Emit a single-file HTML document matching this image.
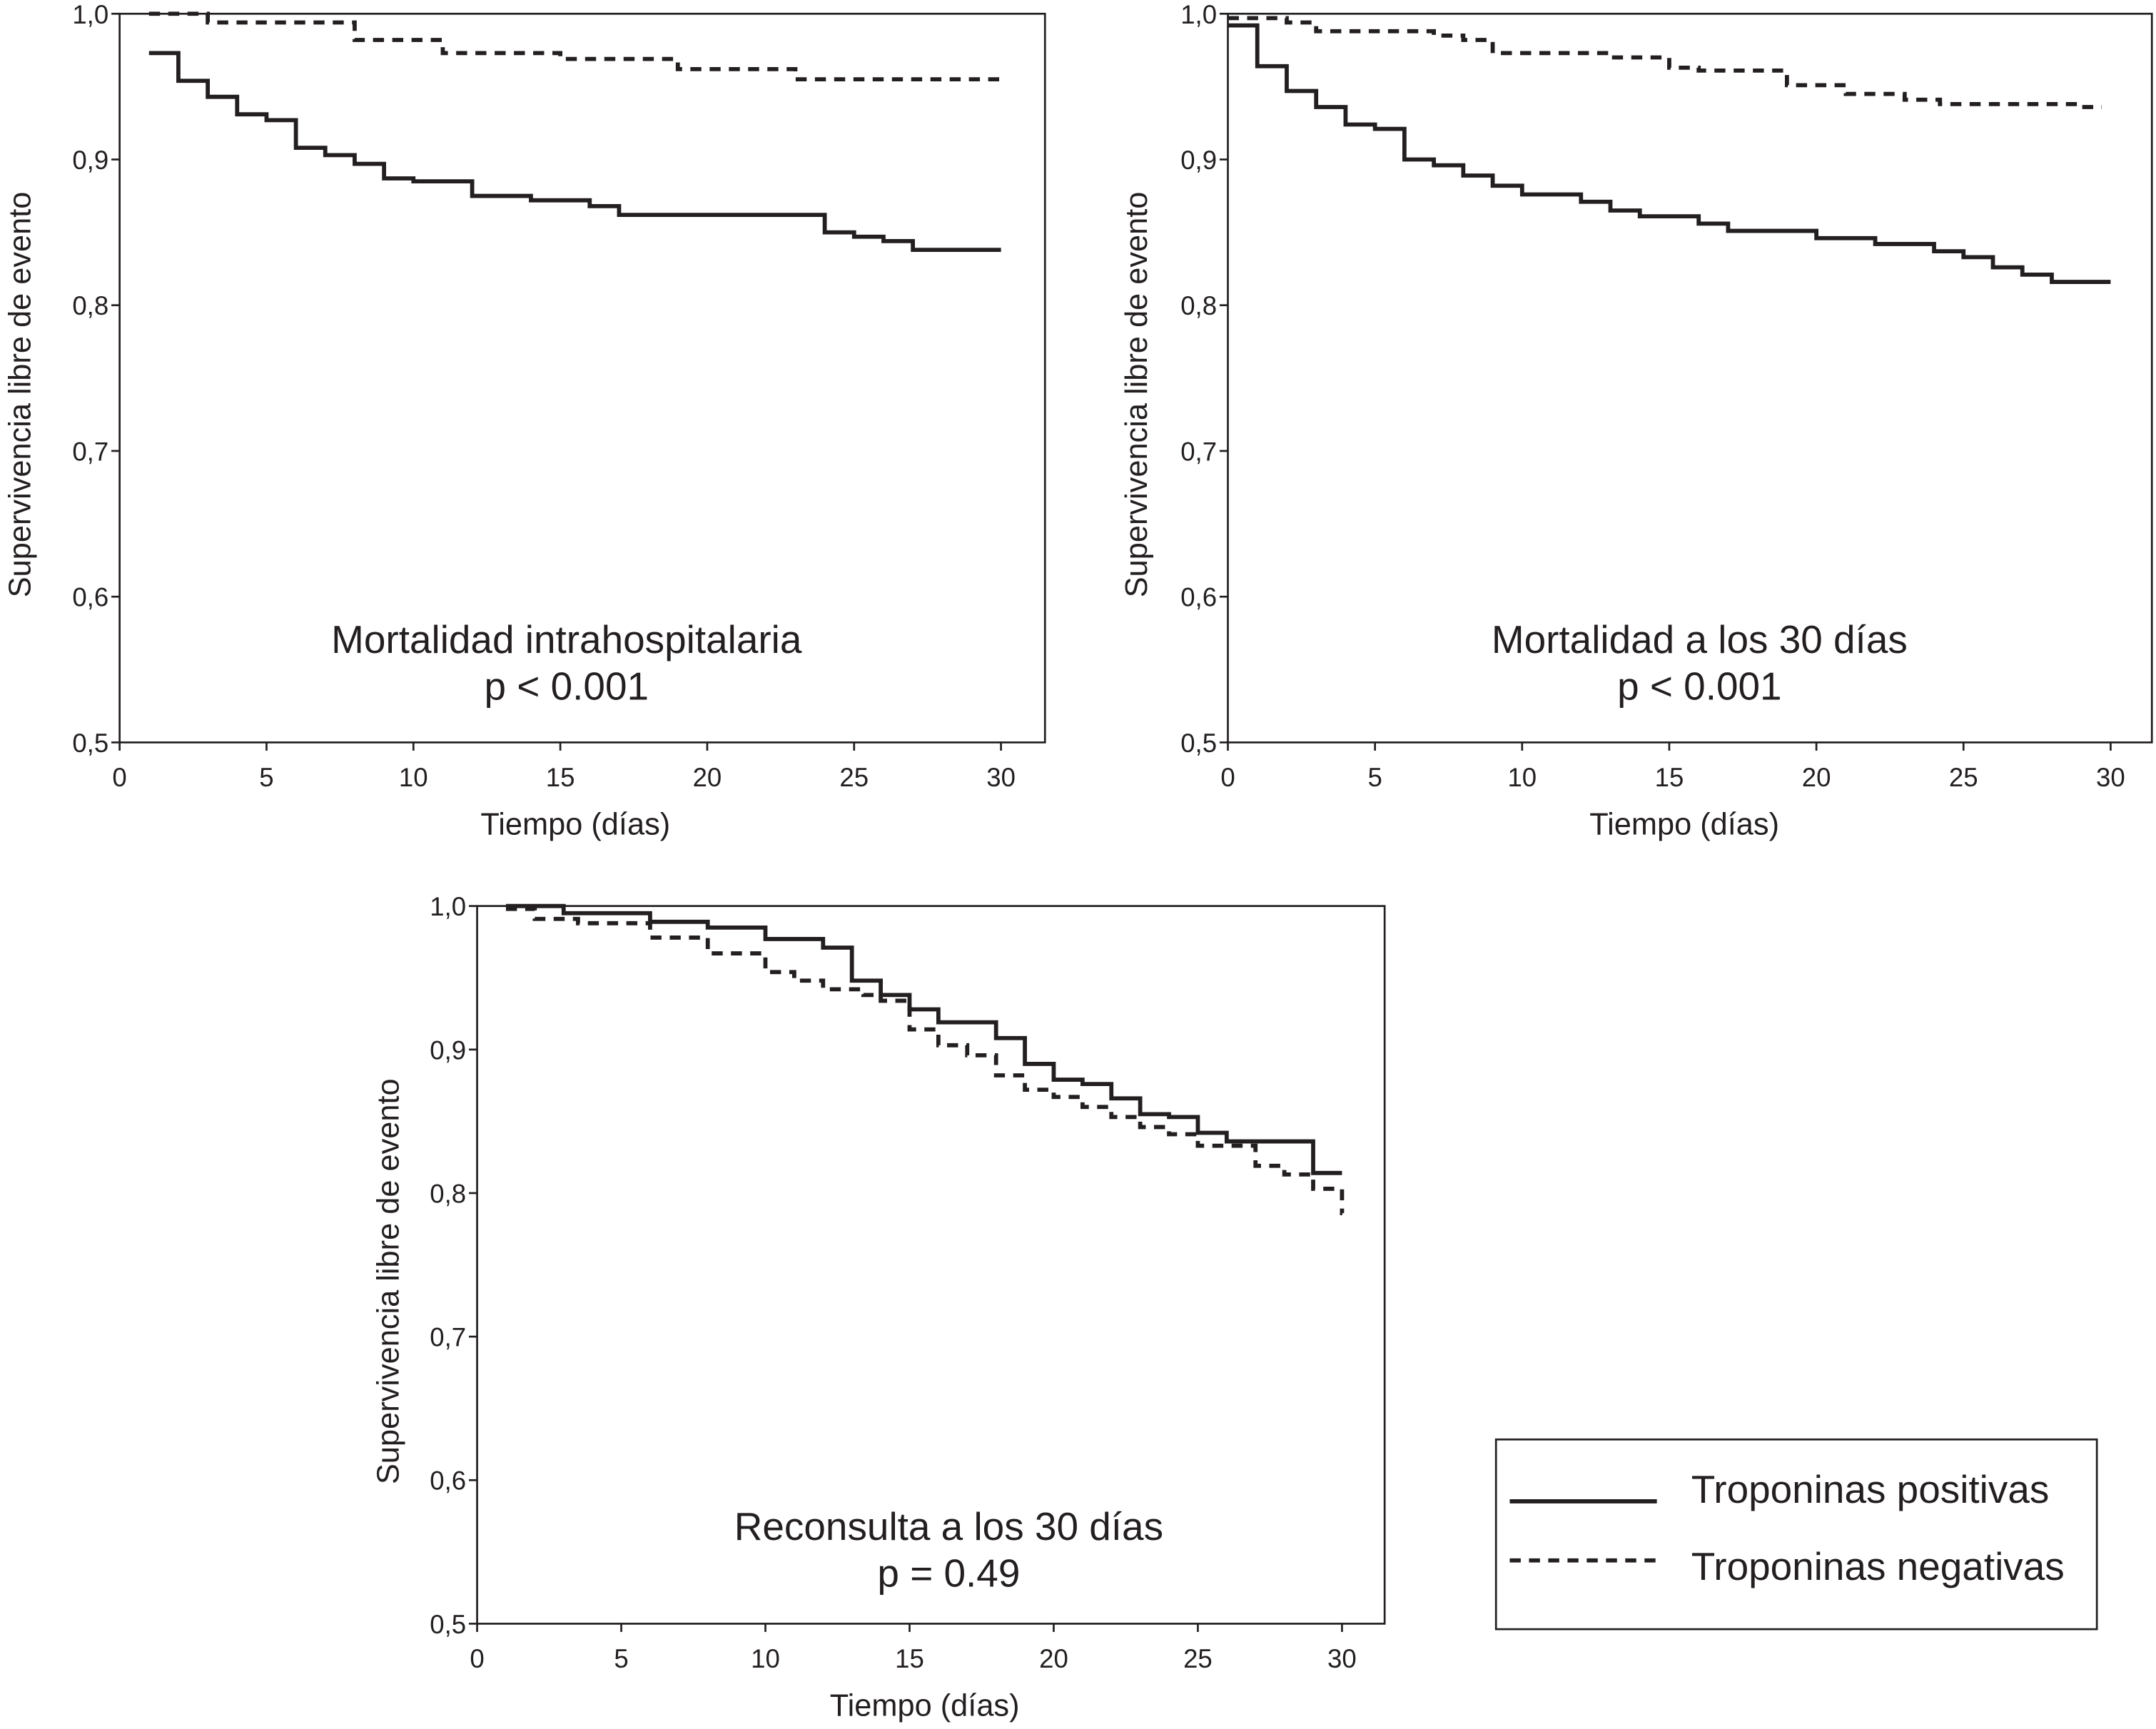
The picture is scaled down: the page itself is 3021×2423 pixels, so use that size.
<!DOCTYPE html>
<html><head><meta charset="utf-8"><style>
html,body{margin:0;padding:0;background:#fff}
svg{display:block}
text{font-family:"Liberation Sans",sans-serif;fill:#231f20}
</style></head><body>
<svg id="chart" width="3021" height="2423" viewBox="0 0 1568 1257.6" preserveAspectRatio="none" xmlns="http://www.w3.org/2000/svg"></svg>
<script>
// Panel 1: Mortalidad intrahospitalaria
const p1PosTimes = [1,2,3,4,5,6,7,8,9,10,12,14,16,17,24,25,26,27,30];
const p1PosVals  = [0.973,0.954,0.943,0.931,0.927,0.908,0.903,0.897,0.887,0.885,0.875,0.872,0.868,0.862,0.850,0.847,0.844,0.838,0.838];
const p1NegTimes = [1,3,8,11,15,19,23,30];
const p1NegVals  = [1.0,0.994,0.982,0.973,0.969,0.962,0.955,0.955];
// Panel 2: Mortalidad a los 30 dias
const p2PosTimes = [0,1,2,3,4,5,6,7,8,9,10,12,13,14,16,17,20,22,24,25,26,27,28,30];
const p2PosVals  = [0.992,0.964,0.947,0.936,0.924,0.921,0.900,0.896,0.889,0.882,0.876,0.871,0.865,0.861,0.856,0.851,0.846,0.842,0.837,0.833,0.826,0.821,0.816,0.816];
const p2NegTimes = [0,2,3,7,8,9,13,15,16,19,21,23,24.2,28.9,29.7];
const p2NegVals  = [0.997,0.994,0.988,0.985,0.982,0.973,0.970,0.963,0.961,0.951,0.945,0.941,0.938,0.936,0.936];
// Panel 3: Reconsulta a los 30 dias
const p3PosTimes = [1,3,6,8,10,12,13,14,15,16,18,19,20,21,22,23,24,25,26,29,30];
const p3PosVals  = [1.0,0.995,0.989,0.985,0.977,0.971,0.948,0.938,0.928,0.919,0.908,0.890,0.879,0.876,0.866,0.855,0.853,0.842,0.836,0.814,0.814];
const p3NegTimes = [1,2,3.5,6,8,10,11,12,13.4,14,15,16,17,18,19,20,21,22,23,24,25,27,28,29,30,30.01];
const p3NegVals  = [0.998,0.991,0.988,0.978,0.967,0.954,0.948,0.942,0.938,0.934,0.914,0.903,0.896,0.882,0.872,0.867,0.860,0.853,0.846,0.841,0.833,0.819,0.813,0.803,0.786,0.786];
const xTicks = [0,5,10,15,20,25,30];
const yTicks = [0.5,0.6,0.7,0.8,0.9,1.0];
const yTickLabels = ["0,5","0,6","0,7","0,8","0,9","1,0"];

const NS="http://www.w3.org/2000/svg";
const svg=document.getElementById('chart');
function mk(tag,attrs,parent){const e=document.createElementNS(NS,tag);for(const k in attrs)e.setAttribute(k,attrs[k]);(parent||svg).appendChild(e);return e;}

const panels=[
 {id:'intrahospital',x0:87,x30:728,right:760,top:10,bottom:540,ytx:14,title:['Mortalidad intrahospitalaria','p < 0.001'],tcx:412,tby:475,
  pos:[p1PosTimes,p1PosVals],neg:[p1NegTimes,p1NegVals]},
 {id:'30-day-mortality',x0:893,x30:1535,right:1565,top:10,bottom:540,ytx:826,title:['Mortalidad a los 30 días','p < 0.001'],tcx:1236,tby:475,
  pos:[p2PosTimes,p2PosVals],neg:[p2NegTimes,p2NegVals]},
 {id:'30-day-readmission',x0:347,x30:976,right:1007,top:659,bottom:1181,ytx:282,title:['Reconsulta a los 30 días','p = 0.49'],tcx:690,tby:1120,
  pos:[p3PosTimes,p3PosVals],neg:[p3NegTimes,p3NegVals]}
];

panels.forEach(p=>{
  const g=mk('g',{});
  
  
  const xs=t=>p.x0+(p.x30-p.x0)*t/30;
  const ys=v=>p.bottom-(v-0.5)/0.5*(p.bottom-p.top);
  const box=mk('rect',{x:p.x0,y:p.top,width:p.right-p.x0,height:p.bottom-p.top,fill:'none',stroke:'#231f20','stroke-width':1.4},g);
  
  
  xTicks.forEach(t=>{
    mk('line',{x1:xs(t),x2:xs(t),y1:p.bottom,y2:p.bottom+6,stroke:'#231f20','stroke-width':1.4},g);
    const tx=mk('text',{x:xs(t),y:p.bottom+32,'font-size':19,'text-anchor':'middle'},g);
    tx.textContent=t;
    
    
  });
  yTicks.forEach((v,i)=>{
    mk('line',{x1:p.x0-6,x2:p.x0,y1:ys(v),y2:ys(v),stroke:'#231f20','stroke-width':1.4},g);
    const tx=mk('text',{x:p.x0-8,y:ys(v)+7,'font-size':19,'text-anchor':'end'},g);
    tx.textContent=yTickLabels[i];
    
    
  });
  const xt=mk('text',{x:(p.x0+p.x30)/2+11,y:p.bottom+67,'font-size':22.5,'text-anchor':'middle'},g);
  xt.textContent='Tiempo (días)';
  
  
  const cy=(p.top+p.bottom)/2+12;
  const yt=mk('text',{x:p.ytx+8,y:cy,'font-size':22.5,'text-anchor':'middle',transform:`rotate(-90 ${p.ytx+8} ${cy})`},g);
  yt.textContent='Supervivencia libre de evento';
  
  
  p.title.forEach((s,i)=>{
    const tt=mk('text',{x:p.tcx,y:p.tby+i*34,'font-size':28.5,'text-anchor':'middle'},g);
    tt.textContent=s;
    
    
  });
  function step(T,V){
    let d=`M${xs(T[0])},${ys(V[0])}`;
    for(let i=1;i<T.length;i++){d+=` H${xs(T[i])} V${ys(V[i])}`;}
    return d;
  }
  const neg=mk('path',{d:step(p.neg[0],p.neg[1]),fill:'none',stroke:'#231f20','stroke-width':3,'stroke-dasharray':'8 6'},g);
  
  
  const pos=mk('path',{d:step(p.pos[0],p.pos[1]),fill:'none',stroke:'#231f20','stroke-width':3},g);
  
  
});

// legend
const lg=mk('g',{});


mk('rect',{x:1088,y:1047,width:437,height:138,fill:'#fff',stroke:'#231f20','stroke-width':1.4},lg);
const l1=mk('line',{x1:1098,x2:1205,y1:1092,y2:1092,stroke:'#231f20','stroke-width':3},lg);


const t1=mk('text',{x:1230,y:1093,'font-size':28.5},lg);
t1.textContent='Troponinas positivas';


const l2=mk('line',{x1:1098,x2:1205,y1:1135,y2:1135,stroke:'#231f20','stroke-width':3,'stroke-dasharray':'8 6'},lg);


const t2=mk('text',{x:1230,y:1149,'font-size':28.5},lg);
t2.textContent='Troponinas negativas';


</script>
</body></html>
